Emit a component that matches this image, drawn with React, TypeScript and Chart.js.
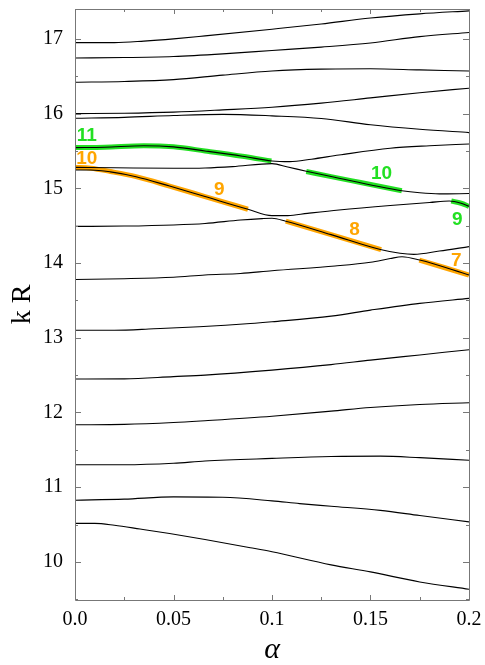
import React, { useEffect, useRef } from 'react';
import { Chart, registerables } from 'chart.js';

Chart.register(...registerables);

type Pt = [number, number];

// ---- axes ----
const xTickValues = [0, 0.05, 0.1, 0.15, 0.2];
const xTickLabels = ['0.0', '0.05', '0.1', '0.15', '0.2'];
const xMinorTicks = [0.025, 0.075, 0.125, 0.175];
const yTickValues = [10, 11, 12, 13, 14, 15, 16, 17];
const yMinorTicks = [9.5, 10.5, 11.5, 12.5, 13.5, 14.5, 15.5, 16.5];

// ---- eigenvalue branches [alpha, kR] (bottom to top) ----
const branch1: Pt[] = [[0, 10.515], [0.01, 10.515], [0.02, 10.49], [0.033, 10.44], [0.048, 10.38], [0.066, 10.3], [0.089, 10.19], [0.1, 10.135], [0.13, 9.96], [0.15, 9.866], [0.175, 9.732], [0.2, 9.634]];
const branch2: Pt[] = [[0, 10.826], [0.025, 10.84], [0.05, 10.87], [0.075, 10.865], [0.1, 10.817], [0.114, 10.78], [0.13, 10.745], [0.155, 10.69], [0.175, 10.62], [0.2, 10.535]];
const branch3: Pt[] = [[0, 11.3], [0.025, 11.3], [0.05, 11.32], [0.066, 11.35], [0.1, 11.385], [0.13, 11.41], [0.155, 11.415], [0.175, 11.395], [0.2, 11.36]];
const branch4: Pt[] = [[0, 11.835], [0.025, 11.84], [0.05, 11.865], [0.066, 11.89], [0.1, 11.95], [0.13, 12.018], [0.15, 12.067], [0.175, 12.107], [0.2, 12.13]];
const branch5: Pt[] = [[0, 12.447], [0.025, 12.45], [0.05, 12.48], [0.066, 12.5], [0.1, 12.567], [0.13, 12.64], [0.15, 12.7], [0.175, 12.77], [0.2, 12.84]];
const branch6: Pt[] = [[0, 13.1], [0.02, 13.1], [0.04, 13.12], [0.063, 13.147], [0.089, 13.19], [0.1, 13.214], [0.13, 13.29], [0.15, 13.37], [0.175, 13.46], [0.2, 13.527]];
const branch7: Pt[] = [[0, 13.78], [0.025, 13.79], [0.05, 13.81], [0.066, 13.84], [0.084, 13.86], [0.1, 13.897], [0.132, 13.96], [0.15, 14.01], [0.16, 14.06], [0.166, 14.085], [0.175, 14.04], [0.2, 13.84]];
const branch8: Pt[] = [[0, 14.49], [0.025, 14.495], [0.05, 14.51], [0.066, 14.53], [0.084, 14.576], [0.095, 14.595], [0.1, 14.6], [0.107, 14.56], [0.13, 14.38], [0.155, 14.18], [0.165, 14.13], [0.172, 14.116], [0.185, 14.16], [0.2, 14.22]];
const branch9: Pt[] = [[0, 15.245], [0.008, 15.245], [0.018, 15.22], [0.031, 15.156], [0.048, 15.03], [0.066, 14.89], [0.0878, 14.72], [0.1, 14.635], [0.108, 14.635], [0.118, 14.665], [0.134, 14.71], [0.16, 14.77], [0.18, 14.81], [0.19, 14.83], [0.196, 14.8], [0.2, 14.76]];
const branch10: Pt[] = [[0, 15.28], [0.02, 15.275], [0.05, 15.268], [0.066, 15.272], [0.08, 15.29], [0.1, 15.33], [0.108, 15.285], [0.1174, 15.228], [0.13, 15.157], [0.1659, 14.968], [0.175, 14.94], [0.185, 14.925], [0.2, 14.93]];
const branch11: Pt[] = [[0, 15.545], [0.015, 15.55], [0.035, 15.57], [0.05, 15.555], [0.066, 15.5], [0.085, 15.43], [0.1, 15.366], [0.109, 15.357], [0.12, 15.39], [0.134, 15.445], [0.16, 15.536], [0.18, 15.57], [0.2, 15.594]];
const branch12: Pt[] = [[0, 15.938], [0.025, 15.95], [0.05, 15.975], [0.075, 15.99], [0.1, 15.97], [0.125, 15.935], [0.15, 15.85], [0.175, 15.79], [0.2, 15.745]];
const branch13: Pt[] = [[0, 16.0], [0.025, 16.005], [0.05, 16.02], [0.075, 16.05], [0.1, 16.085], [0.125, 16.14], [0.15, 16.21], [0.175, 16.28], [0.2, 16.34]];
const branch14: Pt[] = [[0, 16.42], [0.025, 16.43], [0.05, 16.455], [0.075, 16.515], [0.1, 16.57], [0.125, 16.595], [0.15, 16.6], [0.175, 16.585], [0.2, 16.57]];
const branch15: Pt[] = [[0, 16.745], [0.025, 16.75], [0.05, 16.765], [0.075, 16.8], [0.1, 16.845], [0.125, 16.89], [0.15, 16.945], [0.175, 17.03], [0.2, 17.085]];
const branch16: Pt[] = [[0, 16.95], [0.02, 16.95], [0.035, 16.97], [0.05, 17.0], [0.066, 17.04], [0.1, 17.13], [0.125, 17.2], [0.15, 17.28], [0.175, 17.335], [0.2, 17.375]];

const branches: Pt[][] = [branch1, branch2, branch3, branch4, branch5, branch6, branch7, branch8, branch9, branch10, branch11, branch12, branch13, branch14, branch15, branch16];

// ---- highlighted mode segments ----
const greenMode11: Pt[] = [[0, 15.545], [0.015, 15.55], [0.035, 15.57], [0.05, 15.555], [0.066, 15.5], [0.085, 15.43], [0.0997, 15.366]];
const greenMode10: Pt[] = [[0.1174, 15.225], [0.13, 15.157], [0.145, 15.078], [0.1659, 14.968]];
const greenMode9: Pt[] = [[0.191, 14.83], [0.196, 14.8], [0.2, 14.758]];
const orangeMode10: Pt[] = [[0, 15.28], [0.008, 15.27], [0.018, 15.225], [0.031, 15.156], [0.048, 15.03], [0.066, 14.89], [0.0878, 14.72]];
const orangeMode8: Pt[] = [[0.107, 14.56], [0.13, 14.38], [0.1554, 14.18]];
const orangeMode7: Pt[] = [[0.1748, 14.04], [0.2, 13.84]];

const greenSegments: Pt[][] = [greenMode11, greenMode10, greenMode9];
const orangeSegments: Pt[][] = [orangeMode10, orangeMode8, orangeMode7];

// ---- mode labels (text, alpha, kR, family) ----
const labelTexts = ['11', '10', '9', '10', '8', '9', '7'];
const labelAlpha = [0.006, 0.006, 0.0733, 0.1556, 0.1419, 0.194, 0.1936];
const labelKR = [15.7, 15.393, 14.975, 15.192, 14.44, 14.578, 14.027];
const labelIsGreen = [true, false, false, true, false, true, false];

const GREEN = '#22e022';
const ORANGE = '#ffa500';
const FRAME = '#777777';
const SERIF = '"Liberation Serif", "Times New Roman", serif';

const toXY = (pts: Pt[]) => pts.map(([x, y]) => ({ x, y }));

export default function App() {
  const canvasRef = useRef<HTMLCanvasElement | null>(null);

  useEffect(() => {
    if (!canvasRef.current) return;

    const datasets: any[] = [];
    branches.forEach((b) => {
      datasets.push({
        data: toXY(b),
        borderColor: '#000000',
        borderWidth: 1.1,
        pointRadius: 0,
        fill: false,
        cubicInterpolationMode: 'monotone',
        order: 0,
      });
    });
    greenSegments.forEach((s) => {
      datasets.push({
        data: toXY(s),
        borderColor: GREEN,
        borderWidth: 5,
        pointRadius: 0,
        fill: false,
        cubicInterpolationMode: 'monotone',
        borderCapStyle: 'butt',
        order: 1,
      });
    });
    orangeSegments.forEach((s) => {
      datasets.push({
        data: toXY(s),
        borderColor: ORANGE,
        borderWidth: 5,
        pointRadius: 0,
        fill: false,
        cubicInterpolationMode: 'monotone',
        borderCapStyle: 'butt',
        order: 1,
      });
    });

    const framePlugin = {
      id: 'frameTicks',
      afterDatasetsDraw(chart: any) {
        const { ctx, chartArea } = chart;
        const { left, right, top, bottom } = chartArea;
        const xs = chart.scales.x;
        const ys = chart.scales.y;
        ctx.save();
        ctx.strokeStyle = FRAME;
        ctx.lineWidth = 1;
        ctx.beginPath();
        ctx.rect(Math.round(left) + 0.5, Math.round(top) + 0.5, Math.round(right - left), Math.round(bottom - top));
        ctx.stroke();
        const drawX = (v: number, len: number) => {
          const px = Math.round(xs.getPixelForValue(v)) + 0.5;
          ctx.beginPath();
          ctx.moveTo(px, bottom);
          ctx.lineTo(px, bottom - len);
          ctx.moveTo(px, top);
          ctx.lineTo(px, top + len);
          ctx.stroke();
        };
        const drawY = (v: number, len: number) => {
          const py = Math.round(ys.getPixelForValue(v)) + 0.5;
          ctx.beginPath();
          ctx.moveTo(left, py);
          ctx.lineTo(left + len, py);
          ctx.moveTo(right, py);
          ctx.lineTo(right - len, py);
          ctx.stroke();
        };
        xTickValues.forEach((v) => drawX(v, 5));
        xMinorTicks.forEach((v) => drawX(v, 3));
        yTickValues.forEach((v) => drawY(v, 6));
        yMinorTicks.forEach((v) => drawY(v, 3));

        ctx.font = 'bold 19px "Liberation Sans", Arial, sans-serif';
        ctx.textAlign = 'center';
        ctx.textBaseline = 'middle';
        labelTexts.forEach((t, i) => {
          ctx.fillStyle = labelIsGreen[i] ? GREEN : ORANGE;
          ctx.fillText(t, xs.getPixelForValue(labelAlpha[i]), ys.getPixelForValue(labelKR[i]));
        });
        ctx.restore();
      },
    };

    const chart = new Chart(canvasRef.current, {
      type: 'line',
      data: { datasets },
      options: {
        animation: false,
        responsive: false,
        devicePixelRatio: 1,
        layout: { padding: { top: 9, right: 16, left: 0, bottom: 0 } },
        plugins: { legend: { display: false }, tooltip: { enabled: false } },
        elements: { line: { borderJoinStyle: 'round' } },
        scales: {
          x: {
            type: 'linear',
            position: 'bottom',
            min: 0,
            max: 0.2,
            grid: { display: false, drawTicks: false },
            border: { display: false },
            afterBuildTicks: (s: any) => {
              s.ticks = xTickValues.map((v) => ({ value: v }));
            },
            afterFit: (s: any) => {
              s.height = 65;
              s.paddingLeft = 0;
              s.paddingRight = 0;
            },
            ticks: {
              autoSkip: false,
              maxRotation: 0,
              padding: 8,
              color: '#000000',
              font: { family: SERIF, size: 20 },
              callback: (v: any) => {
                const i = xTickValues.findIndex((t) => Math.abs(t - Number(v)) < 1e-9);
                return i >= 0 ? xTickLabels[i] : '';
              },
            },
            title: {
              display: true,
              text: 'α',
              color: '#000000',
              padding: { top: 0, bottom: 0 },
              font: { family: SERIF, size: 30, style: 'italic', lineHeight: 1 },
            },
          },
          y: {
            type: 'linear',
            position: 'left',
            min: 9.49,
            max: 17.4,
            grid: { display: false, drawTicks: false },
            border: { display: false },
            afterBuildTicks: (s: any) => {
              s.ticks = yTickValues.map((v) => ({ value: v }));
            },
            afterFit: (s: any) => {
              s.width = 75;
              s.paddingTop = 0;
              s.paddingBottom = 0;
            },
            ticks: {
              autoSkip: false,
              padding: 12,
              color: '#000000',
              font: { family: SERIF, size: 20 },
              callback: (v: any) => String(v),
            },
            title: {
              display: true,
              text: 'k R',
              color: '#000000',
              padding: { top: 9, bottom: 0 },
              font: { family: SERIF, size: 28, lineHeight: 1 },
            },
          },
        },
      },
      plugins: [framePlugin],
    });

    return () => chart.destroy();
  }, []);

  return (
    <div style={{ position: 'absolute', left: 0, top: 0, width: 485, height: 665, background: '#ffffff' }}>
      <canvas ref={canvasRef} width={485} height={665} style={{ display: 'block' }} />
    </div>
  );
}
